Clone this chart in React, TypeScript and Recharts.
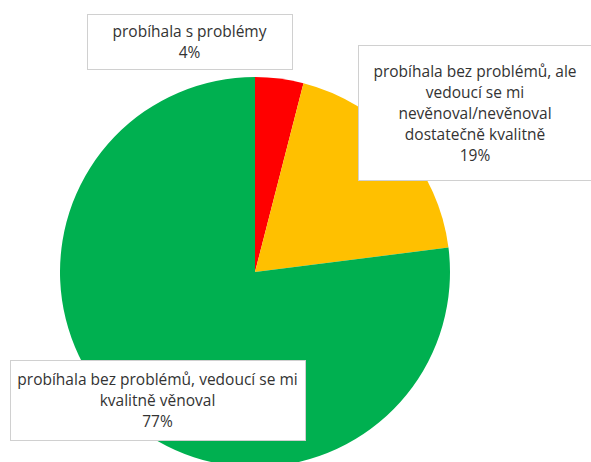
import { PieChart, Pie, Cell } from 'recharts';

document.body.style.margin = '0';

const CATEGORIES = [
    'probíhala s problémy',
    'probíhala bez problémů, ale vedoucí se mi nevěnoval/nevěnoval dostatečně kvalitně',
    'probíhala bez problémů, vedoucí se mi kvalitně věnoval',
];
const VALUES = [4, 19, 77];
const COLORS = ['#FF0000', '#FFC000', '#00B050'];
// label text broken into lines as in the original
const LABEL_LINES = [
    ['probíhala s problémy'],
    ['probíhala bez problémů, ale', 'vedoucí se mi', 'nevěnoval/nevěnoval', 'dostatečně kvalitně'],
    ['probíhala bez problémů, vedoucí se mi', 'kvalitně věnoval'],
];

// label box placement (x, y, w, h)
const BOXES = [
    { x: 87, y: 14, w: 205, h: 55 },
    { x: 358, y: 45, w: 234, h: 135 },
    { x: 10, y: 360, w: 295, h: 80 },
];

const data = CATEGORIES.map((name, i) => ({ name, value: VALUES[i] }));

const renderLabel = (props: any) => {
    const { index, percent } = props;
    const box = BOXES[index];
    const lines = [...LABEL_LINES[index], `${Math.round(percent * 100)}%`];
    const lineH = 21;
    const cx = box.x + box.w / 2;
    const firstY = box.y + box.h / 2 - ((lines.length - 1) * lineH) / 2;
    return (
        <g key={`lbl-${index}`}>
            <rect x={box.x + 0.5} y={box.y + 0.5} width={box.w} height={box.h} fill="#fff" stroke="#d0d0d0" strokeWidth={1} />
            <text x={cx} textAnchor="middle" fill="#333" fontSize={15.5} fontFamily="'Open Sans', sans-serif">
                {lines.map((l, i) => (
                    <tspan key={i} x={cx} y={firstY + i * lineH} dominantBaseline="central">{l}</tspan>
                ))}
            </text>
        </g>
    );
};

const App = () => {
    return (
        <div style={{ width: 591, height: 462, background: '#fff', overflow: 'hidden' }}>
            <PieChart width={591} height={462} margin={{ top: 0, right: 0, bottom: 0, left: 0 }}>
                <Pie
                    data={data}
                    dataKey="value"
                    nameKey="name"
                    cx={255}
                    cy={272}
                    outerRadius={195}
                    startAngle={90}
                    endAngle={-270}
                    stroke="none"
                    label={renderLabel}
                    labelLine={false}
                    isAnimationActive={false}
                >
                    {data.map((_, i) => <Cell key={i} fill={COLORS[i]} />)}
                </Pie>
            </PieChart>
        </div>
    );
};

export default App;
